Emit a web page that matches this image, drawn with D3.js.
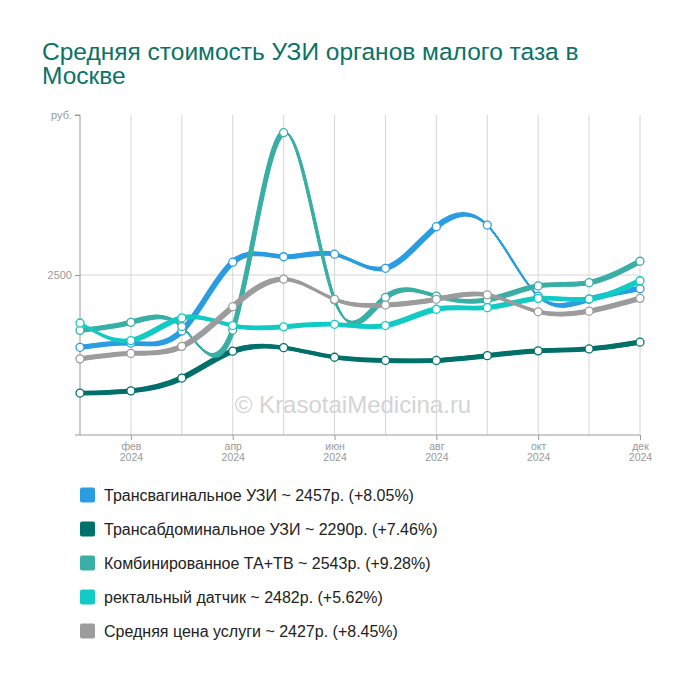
<!DOCTYPE html>
<html>
<head>
<meta charset="utf-8">
<script src="https://cdn.jsdelivr.net/npm/d3@7"></script>
<style>
  html, body { margin: 0; padding: 0; background: #fff; }
  svg { display: block; font-family: "Liberation Sans", Arial, sans-serif; }
</style>
</head>
<body>
<svg id="chart" width="700" height="680"></svg>
<script>
// ---- data ----
const months = ['янв','фев','мар','апр','май','июн','июл','авг','сен','окт','ноя','дек'];
const labeledMonths = ['фев','апр','июн','авг','окт','дек'];
const yearLabel = '2024';
const yTicks = [2500, 3000];
const yTickLabels = ['2500', 'руб.'];

const seriesNames = [
  'Трансвагинальное УЗИ',
  'Трансабдоминальное УЗИ',
  'Комбинированное ТА+ТВ',
  'ректальный датчик',
  'Средняя цена услуги'
];
const transvaginal   = [2274, 2287, 2325, 2540, 2557, 2565, 2521, 2651, 2656, 2434, 2424, 2457];
const transabdominal = [2131, 2138, 2178, 2262, 2273, 2243, 2233, 2233, 2248, 2263, 2269, 2290];
const combined       = [2327, 2352, 2339, 2328, 2945, 2422, 2430, 2434, 2422, 2466, 2476, 2543];
const rectal         = [2350, 2295, 2366, 2342, 2338, 2346, 2342, 2393, 2398, 2427, 2425, 2482];
const average        = [2238, 2255, 2277, 2401, 2487, 2424, 2406, 2424, 2438, 2385, 2387, 2427];
const legendPrices   = ['2457', '2290', '2543', '2482', '2427'];
const legendChanges  = ['+8.05%', '+7.46%', '+9.28%', '+5.62%', '+8.45%'];
const seriesColors   = ['#2a9de2', '#00706a', '#3aafa6', '#12cbc4', '#9c9c9c'];

const titleLines = ['Средняя стоимость УЗИ органов малого таза в', 'Москве'];
const watermark = '© KrasotaiMedicina.ru';

// ---- chart ----
const svg = d3.select('#chart');
const plotLeft = 80, plotRight = 640, plotTop = 115, plotBottom = 435;

const x = d3.scalePoint().domain(months).range([plotLeft, plotRight]);
const y = d3.scaleLinear().domain([2000, 3000]).range([plotBottom, plotTop]);

// title
const title = svg.append('text').attr('x', 42).attr('y', 60)
  .attr('fill', '#0b7266').attr('font-size', 24.5);
titleLines.forEach((t, i) => {
  title.append('tspan').attr('x', 42).attr('dy', i === 0 ? 0 : 24).text(t);
});

// grid
const grid = svg.append('g');
grid.selectAll('line.v').data(months.slice(1)).join('line')
  .attr('x1', d => x(d)).attr('x2', d => x(d))
  .attr('y1', plotTop).attr('y2', plotBottom)
  .attr('stroke', '#d6d6d6').attr('stroke-width', 1);
grid.append('line')
  .attr('x1', plotLeft).attr('x2', plotRight)
  .attr('y1', y(2500)).attr('y2', y(2500))
  .attr('stroke', '#d6d6d6').attr('stroke-width', 1);

// watermark
svg.append('text').attr('x', 353).attr('y', 413)
  .attr('text-anchor', 'middle').attr('font-size', 24)
  .attr('fill', '#d4d4d4').text(watermark);

// axes
const yAxis = svg.append('g').attr('transform', `translate(${plotLeft},0)`)
  .call(d3.axisLeft(y).tickValues(yTicks).tickSize(5).tickPadding(3)
    .tickFormat(d => yTickLabels[yTicks.indexOf(d)]));
yAxis.select('.domain').attr('stroke', '#999').attr('d', `M-5,${plotTop}H0V${plotBottom}`);
yAxis.selectAll('.tick line').attr('stroke', '#999');
yAxis.selectAll('.tick text').attr('fill', '#999').attr('font-size', 11)
  .attr('font-family', '"Liberation Sans", Arial, sans-serif');

const xAxis = svg.append('g').attr('transform', `translate(0,${plotBottom})`)
  .call(d3.axisBottom(x).tickValues(labeledMonths).tickSize(5).tickPadding(3));
xAxis.select('.domain').attr('stroke', '#999').attr('d', `M${plotLeft - 5},0H${plotRight}`);
xAxis.selectAll('.tick line').attr('stroke', '#999');
xAxis.selectAll('.tick text').attr('fill', '#999').attr('font-size', 10.5)
  .attr('font-family', '"Liberation Sans", Arial, sans-serif')
  .each(function(d) {
    const t = d3.select(this);
    t.text(null);
    t.append('tspan').attr('x', 0).attr('dy', '0.71em').text(d);
    t.append('tspan').attr('x', 0).attr('dy', '1.05em').text(yearLabel);
  });

// series
const allSeries = [transvaginal, transabdominal, combined, rectal, average];
const line = d3.line()
  .x((d, i) => x(months[i]))
  .y(d => y(d))
  .curve(d3.curveNatural);

const penSteps = d3.range(0, 9).map(k => k / 8 - 0.5);
const series = svg.append('g');
allSeries.forEach((vals, si) => {
  const g = series.append('g');
  penSteps.forEach(t => {
    g.append('path')
      .attr('d', line(vals))
      .attr('transform', `translate(${t * 3},${t * 3.5})`)
      .attr('fill', 'none')
      .attr('stroke', seriesColors[si])
      .attr('stroke-width', 1.3);
  });
});
allSeries.forEach((vals, si) => {
  series.append('g').selectAll('circle').data(vals).join('circle')
    .attr('cx', (d, i) => x(months[i]))
    .attr('cy', d => y(d))
    .attr('r', 4)
    .attr('fill', '#fff')
    .attr('stroke', seriesColors[si])
    .attr('stroke-width', 1.3);
});

// legend
const legend = svg.append('g');
seriesNames.forEach((name, i) => {
  const cy = 495 + i * 34;
  legend.append('rect').attr('x', 80).attr('y', cy - 7.5)
    .attr('width', 15).attr('height', 15).attr('rx', 2)
    .attr('fill', seriesColors[i]);
  legend.append('text').attr('x', 104).attr('y', cy + 5.7)
    .attr('font-size', 16).attr('fill', '#222')
    .text(`${name} ~ ${legendPrices[i]}р. (${legendChanges[i]})`);
});
</script>
</body>
</html>
